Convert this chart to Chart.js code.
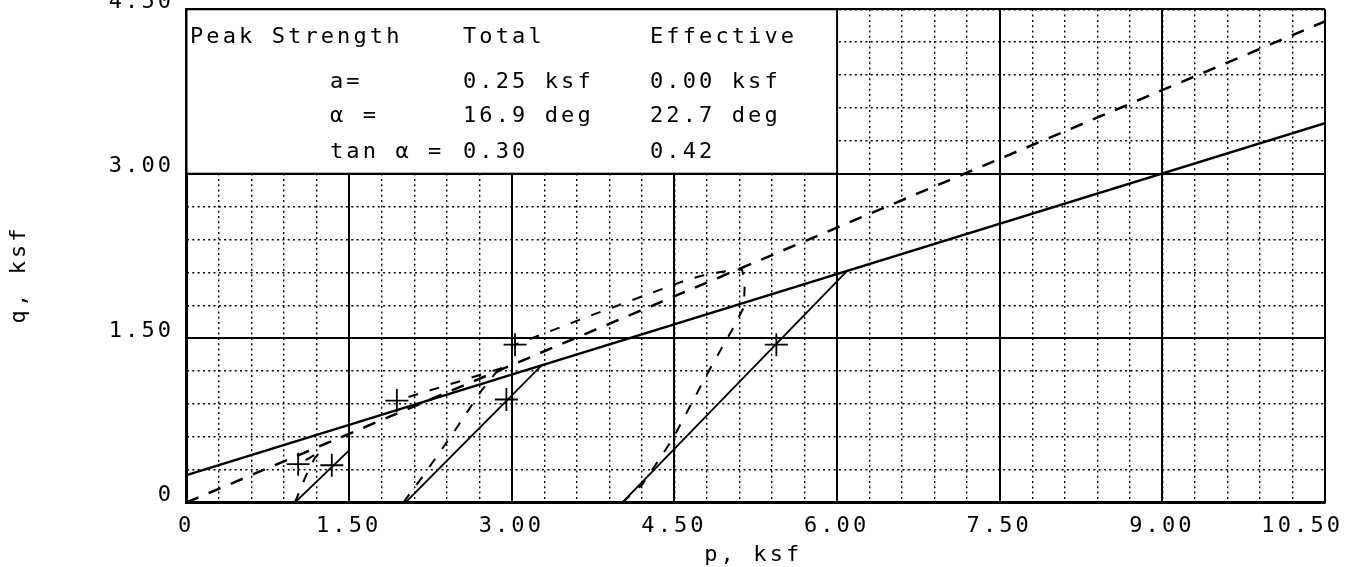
<!DOCTYPE html>
<html>
<head>
<meta charset="utf-8">
<script src="https://cdn.jsdelivr.net/npm/chart.js@4.4.1/dist/chart.umd.min.js"></script>
<style>
  html, body { margin: 0; padding: 0; background: #fff; }
  #wrap { width: 1357px; height: 567px; overflow: hidden; position: relative; }
  #pqChart { position: absolute; left: 0; top: -4px; }
</style>
</head>
<body>
<div id="wrap"><canvas id="pqChart" width="1357" height="571"></canvas></div>
<script>
// tick labels
const pTickLabels = ['0', '1.50', '3.00', '4.50', '6.00', '7.50', '9.00', '10.50'];
const qTickLabels = ['0', '1.50', '3.00', '4.50'];

// failure envelopes (total solid, effective dashed)
const totalEnvP = [0, 10.5];
const totalEnvQ = [0.25, 3.46];
const effEnvP = [0, 10.5];
const effEnvQ = [0, 4.39];

// total stress paths
const tot1P = [1.00, 1.50];
const tot1Q = [0, 0.475];
const tot2P = [2.02, 3.28];
const tot2Q = [0, 1.255];
const tot3P = [4.02, 6.10];
const tot3Q = [0, 2.12];

// effective stress paths
const eff1P = [1.00, 1.10, 1.18, 1.24, 1.14, 1.03];
const eff1Q = [0, 0.24, 0.40, 0.47, 0.41, 0.35];
const eff2P = [2.00, 2.18, 2.45, 2.72, 2.85, 2.95, 2.50, 1.94];
const eff2Q = [0, 0.24, 0.62, 1.02, 1.18, 1.24, 1.10, 0.93];
const eff3P = [4.02, 4.20, 4.33, 4.49, 4.80, 5.04, 5.14, 5.15, 5.12, 4.83, 4.61, 3.75, 3.03];
const eff3Q = [0, 0.16, 0.35, 0.59, 1.17, 1.59, 1.78, 2.03, 2.13, 2.09, 2.03, 1.714, 1.44];

// selected points (+)
const markP = [1.03, 1.34, 1.94, 2.95, 3.03, 5.44];
const markQ = [0.35, 0.34, 0.93, 0.94, 1.44, 1.44];

// strength table
const tableRows = [
  ['Peak Strength', 'Total', 'Effective'],
  ['a=', '0.25 ksf', '0.00 ksf'],
  ['α =', '16.9 deg', '22.7 deg'],
  ['tan α =', '0.30', '0.42']
];

const xTitle = 'p, ksf';
const yTitle = 'q, ksf';

const pts = (ps, qs) => ps.map((p, i) => ({ x: p, y: qs[i] }));

const FONT = '22px "DejaVu Sans Mono", monospace';
const SPACING = 3.1;

function plotText(ctx, str, x, y, align) {
  ctx.font = FONT;
  if ('letterSpacing' in ctx) ctx.letterSpacing = SPACING + 'px';
  ctx.textAlign = 'left';
  let w = ctx.measureText(str).width;
  if ('letterSpacing' in ctx) w -= SPACING;
  let x0 = x;
  if (align === 'center') x0 = x - w / 2;
  if (align === 'right') x0 = x - w;
  ctx.fillText(str, x0, y);
}

const paperPlugin = {
  id: 'paper',
  beforeDatasetsDraw(chart) {
    const { ctx, scales: { x, y } } = chart;
    const left = x.getPixelForValue(0), right = x.getPixelForValue(6);
    const top = y.getPixelForValue(4.5), bottom = y.getPixelForValue(3);
    ctx.save();
    ctx.fillStyle = '#fff';
    ctx.fillRect(left, top, right - left, bottom - top);
    ctx.strokeStyle = '#000';
    ctx.lineWidth = 2;
    ctx.strokeRect(left, top, right - left, bottom - top);

    ctx.fillStyle = '#000';
    ctx.textBaseline = 'alphabetic';
    // baselines measured from the top of the frame
    const baselines = [34, 79, 113, 149];
    const colX = [330, 463, 650];
    tableRows.forEach((row, r) => {
      row.forEach((cell, c) => {
        const cx = (r === 0 && c === 0) ? 190 : colX[c];
        plotText(ctx, cell, cx, top + baselines[r], 'left');
      });
    });
    ctx.restore();
  },
  afterDraw(chart) {
    const { ctx, chartArea, scales: { x, y } } = chart;
    ctx.save();
    ctx.fillStyle = '#000';
    ctx.textBaseline = 'middle';

    const labelY = chartArea.bottom + 23.5;
    x.ticks.forEach((t, i) => {
      const px = x.getPixelForValue(t.value);
      const last = i === x.ticks.length - 1;
      if (last) plotText(ctx, pTickLabels[i], px + 15, labelY, 'right');
      else plotText(ctx, pTickLabels[i], px - 2, labelY, 'center');
    });
    y.ticks.forEach((t, i) => {
      const py = y.getPixelForValue(t.value);
      plotText(ctx, qTickLabels[i], 171, py - 7, 'right');
    });

    plotText(ctx, xTitle, (x.left + x.right) / 2 - 4, chartArea.bottom + 52.5, 'center');

    ctx.translate(19, (chartArea.top + chartArea.bottom) / 2 + 20);
    ctx.rotate(-Math.PI / 2);
    plotText(ctx, yTitle, 0, 0, 'center');
    ctx.restore();
  }
};

const solid = (data, w) => ({ data, showLine: true, borderColor: '#000', borderWidth: w, pointRadius: 0, fill: false, tension: 0 });
const dashed = (data, w, dash) => ({ ...solid(data, w), borderDash: dash });

const dotted = { dash: [2, 3.3] };

new Chart(document.getElementById('pqChart'), {
  type: 'scatter',
  data: {
    datasets: [
      solid(pts(totalEnvP, totalEnvQ), 2.5),
      dashed(pts(effEnvP, effEnvQ), 2.5, [13, 11]),
      solid(pts(tot1P, tot1Q), 1.8),
      solid(pts(tot2P, tot2Q), 1.8),
      solid(pts(tot3P, tot3Q), 1.8),
      dashed(pts(eff1P, eff1Q), 2, [10, 12]),
      dashed(pts(eff2P, eff2Q), 2, [10, 12]),
      dashed(pts(eff3P, eff3Q), 2, [10, 12]),
      {
        data: pts(markP, markQ),
        showLine: false,
        pointStyle: 'cross',
        pointRadius: 11.5,
        pointBorderWidth: 1.8,
        pointBorderColor: '#000',
        pointBackgroundColor: '#000'
      }
    ]
  },
  options: {
    responsive: false,
    animation: false,
    layout: { padding: { top: 9, right: 32, left: 0, bottom: 0 } },
    plugins: { legend: { display: false }, tooltip: { enabled: false } },
    scales: {
      x: {
        type: 'linear', position: 'bottom', min: 0, max: 10.5,
        ticks: { display: false, stepSize: 1.5 },
        grid: { color: '#000', lineWidth: 2, drawTicks: false },
        border: { display: true, color: '#000', width: 2.5 },
        afterFit: s => { s.height = 64.5; }
      },
      xMinor: {
        type: 'linear', position: 'bottom', min: 0, max: 10.5,
        ticks: { display: false, stepSize: 0.3 },
        grid: { color: '#000', lineWidth: 1.4, drawTicks: false, borderDash: dotted.dash },
        border: { display: false, dash: dotted.dash },
        afterFit: s => { s.height = 0; }
      },
      y: {
        type: 'linear', position: 'left', min: 0, max: 4.5,
        ticks: { display: false, stepSize: 1.5 },
        grid: { color: '#000', lineWidth: 2, drawTicks: false },
        border: { display: true, color: '#000', width: 2.5 },
        afterFit: s => { s.width = 186.5; }
      },
      yMinor: {
        type: 'linear', position: 'left', min: 0, max: 4.5,
        ticks: { display: false, stepSize: 0.3 },
        grid: { color: '#000', lineWidth: 1.4, drawTicks: false, borderDash: dotted.dash },
        border: { display: false, dash: dotted.dash },
        afterFit: s => { s.width = 0; }
      }
    }
  },
  plugins: [paperPlugin]
});
</script>
</body>
</html>
